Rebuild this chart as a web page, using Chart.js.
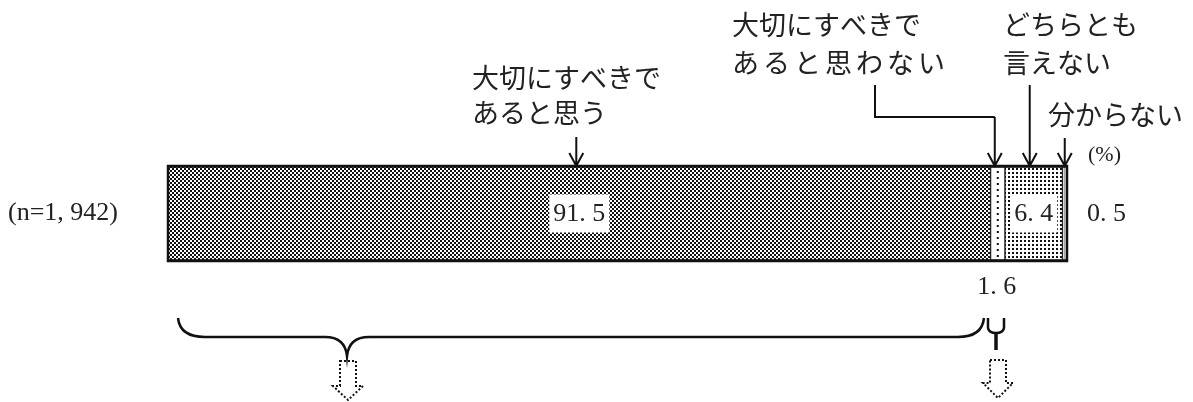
<!DOCTYPE html>
<html>
<head>
<meta charset="utf-8">
<script src="https://cdn.jsdelivr.net/npm/chart.js@4/dist/chart.umd.min.js"></script>
<style>
  html, body { margin: 0; padding: 0; background: #fff; }
  #wrap { width: 1193px; height: 402px; }
</style>
</head>
<body>
<div id="wrap"><canvas id="bar-chart" width="1193" height="402"></canvas></div>
<script>
const categories = ['(n=1, 942)'];
const seriesLabels = ['大切にすべきであると思う', '大切にすべきであるとは思わない', 'どちらとも言えない', '分からない'];
const seriesValues = [91.5, 1.6, 6.4, 0.5];

const jpFont = '27px "Noto Sans CJK JP"';
const numFont = '26px "Liberation Serif", "Noto Sans CJK JP"';
const ink = '#222';

// fill patterns
function makePattern(size, draw) {
    const c = document.createElement('canvas');
    c.width = size; c.height = size;
    const g = c.getContext('2d');
    g.fillStyle = '#fff';
    g.fillRect(0, 0, size, size);
    g.fillStyle = '#111';
    draw(g);
    return c.getContext('2d').createPattern(c, 'repeat');
}
const checker = makePattern(4, g => { g.fillRect(0, 0, 2, 2); g.fillRect(2, 2, 2, 2); });
const dots = makePattern(4, g => { g.fillRect(0, 0, 2, 2); });

function fmt(v) { return v.toFixed(1).replace('.', '. '); }

function arrow(ctx, x, y1, y2) {
    ctx.beginPath();
    ctx.moveTo(x, y1); ctx.lineTo(x, y2);
    ctx.moveTo(x - 7, y2 - 13); ctx.lineTo(x, y2); ctx.lineTo(x + 7, y2 - 13);
    ctx.stroke();
}
function blockArrow(ctx, cx, top, shaftBottom, tip) {
    ctx.save();
    ctx.setLineDash([2, 2]);
    ctx.lineWidth = 2;
    ctx.beginPath();
    ctx.moveTo(cx - 8, top); ctx.lineTo(cx + 8, top);
    ctx.lineTo(cx + 8, shaftBottom); ctx.lineTo(cx + 15, shaftBottom);
    ctx.lineTo(cx, tip); ctx.lineTo(cx - 15, shaftBottom);
    ctx.lineTo(cx - 8, shaftBottom); ctx.closePath();
    ctx.stroke();
    ctx.restore();
}
function lines(ctx, arr, x, y, step, spacing) {
    arr.forEach((t, i) => {
        ctx.letterSpacing = (spacing && spacing[i]) || '0px';
        ctx.fillText(t, x, y + i * step);
    });
    ctx.letterSpacing = '0px';
}

const decorations = {
    id: 'decorations',
    afterDatasetsDraw(chart) {
        const ctx = chart.ctx;
        const segs = chart.data.datasets.map((d, i) => chart.getDatasetMeta(i).data[0]);
        const top = segs[0].y - segs[0].height / 2;
        const bottom = segs[0].y + segs[0].height / 2;
        const left = segs[0].base;
        const right = segs[segs.length - 1].x;
        const mid = segs.map(s => (s.base + s.x) / 2);
        ctx.save();
        // dotted column in segment 2, thin line in segment 4
        ctx.fillStyle = '#111';
        for (let y = top + 5; y < bottom - 2; y += 6) ctx.fillRect(mid[1] - 1, y, 2, 2);
        ctx.strokeStyle = '#888';
        ctx.lineWidth = 1;
        ctx.beginPath(); ctx.moveTo(mid[3], top + 2); ctx.lineTo(mid[3], bottom - 2); ctx.stroke();
        // outer frame
        ctx.strokeStyle = '#111';
        ctx.lineWidth = 2.5;
        ctx.strokeRect(left, top, right - left, bottom - top);

        // value labels
        ctx.font = numFont;
        ctx.textBaseline = 'middle';
        ctx.textAlign = 'center';
        [0, 2].forEach(i => {
            const t = fmt(seriesValues[i]);
            const w = ctx.measureText(t).width + 8;
            ctx.fillStyle = '#fff';
            ctx.fillRect(mid[i] - w / 2, segs[i].y - 19, w, 38);
            ctx.fillStyle = ink;
            ctx.fillText(t, mid[i], segs[i].y + 1);
        });
        ctx.fillStyle = ink;
        ctx.fillText(fmt(seriesValues[1]), mid[1] - 1, 287);
        ctx.textAlign = 'left';
        ctx.fillText(fmt(seriesValues[3]), right + 20, segs[3].y + 1);
        ctx.font = '22px "Liberation Serif"';
        ctx.fillText('(%)', right + 21, 155);

        // category labels
        ctx.font = jpFont;
        lines(ctx, ['大切にすべきで', 'あると思う'], 472, 78, 35);
        lines(ctx, ['大切にすべきで', 'あると思わない'], 732, 25, 38, ['0px', '4px']);
        lines(ctx, ['どちらとも', '言えない'], 1003, 25, 38);
        ctx.fillText('分からない', 1048, 115);

        // leaders
        ctx.strokeStyle = '#111';
        ctx.lineWidth = 2;
        arrow(ctx, mid[0] - 3, 137, top);
        ctx.beginPath();
        ctx.moveTo(875, 85); ctx.lineTo(875, 117); ctx.lineTo(mid[1] - 3, 117); ctx.stroke();
        arrow(ctx, mid[1] - 3, 117, top);
        arrow(ctx, mid[2] - 4, 85, top);
        arrow(ctx, mid[3], 138, top);

        // brace under the first segment
        ctx.lineWidth = 2.5;
        ctx.beginPath();
        ctx.moveTo(178, 318);
        ctx.quadraticCurveTo(180, 337, 205, 337);
        ctx.lineTo(325, 337);
        ctx.quadraticCurveTo(345, 337, 347, 356);
        ctx.quadraticCurveTo(349, 337, 369, 337);
        ctx.lineTo(958, 337);
        ctx.quadraticCurveTo(982, 337, 984, 318);
        ctx.stroke();
        // small bracket under segment 2
        ctx.beginPath();
        ctx.moveTo(988, 318);
        ctx.lineTo(988, 328);
        ctx.quadraticCurveTo(989, 333, 996, 333);
        ctx.quadraticCurveTo(1003, 333, 1004, 328);
        ctx.lineTo(1004, 318);
        ctx.stroke();
        ctx.lineWidth = 3.5;
        ctx.beginPath(); ctx.moveTo(996, 333); ctx.lineTo(996, 350); ctx.stroke();

        blockArrow(ctx, 348, 361, 386, 400);
        blockArrow(ctx, 998, 360, 383, 398);
        ctx.restore();
    }
};

const fills = [checker, '#fff', dots, '#fff'];

new Chart(document.querySelector('#bar-chart'), {
    type: 'bar',
    data: {
        labels: categories,
        datasets: seriesValues.map((v, i) => ({
            label: seriesLabels[i],
            data: [v],
            backgroundColor: fills[i],
            borderColor: '#111',
            borderWidth: { top: 2, bottom: 2, left: 1, right: 1 },
            borderSkipped: false,
            categoryPercentage: 1,
            barPercentage: 1
        }))
    },
    options: {
        indexAxis: 'y',
        responsive: false,
        maintainAspectRatio: false,
        animation: false,
        layout: { padding: { left: 8, right: 126, top: 166, bottom: 141 } },
        plugins: {
            legend: { display: false },
            tooltip: { enabled: false }
        },
        scales: {
            x: { stacked: true, min: 0, max: 100, display: false },
            y: {
                stacked: true,
                grid: { display: false },
                border: { display: false },
                ticks: {
                    crossAlign: 'far',
                    color: ink,
                    font: { family: '"Liberation Serif"', size: 26 }
                },
                afterFit(axis) { axis.width = 160; }
            }
        }
    },
    plugins: [decorations]
});
</script>
</body>
</html>
